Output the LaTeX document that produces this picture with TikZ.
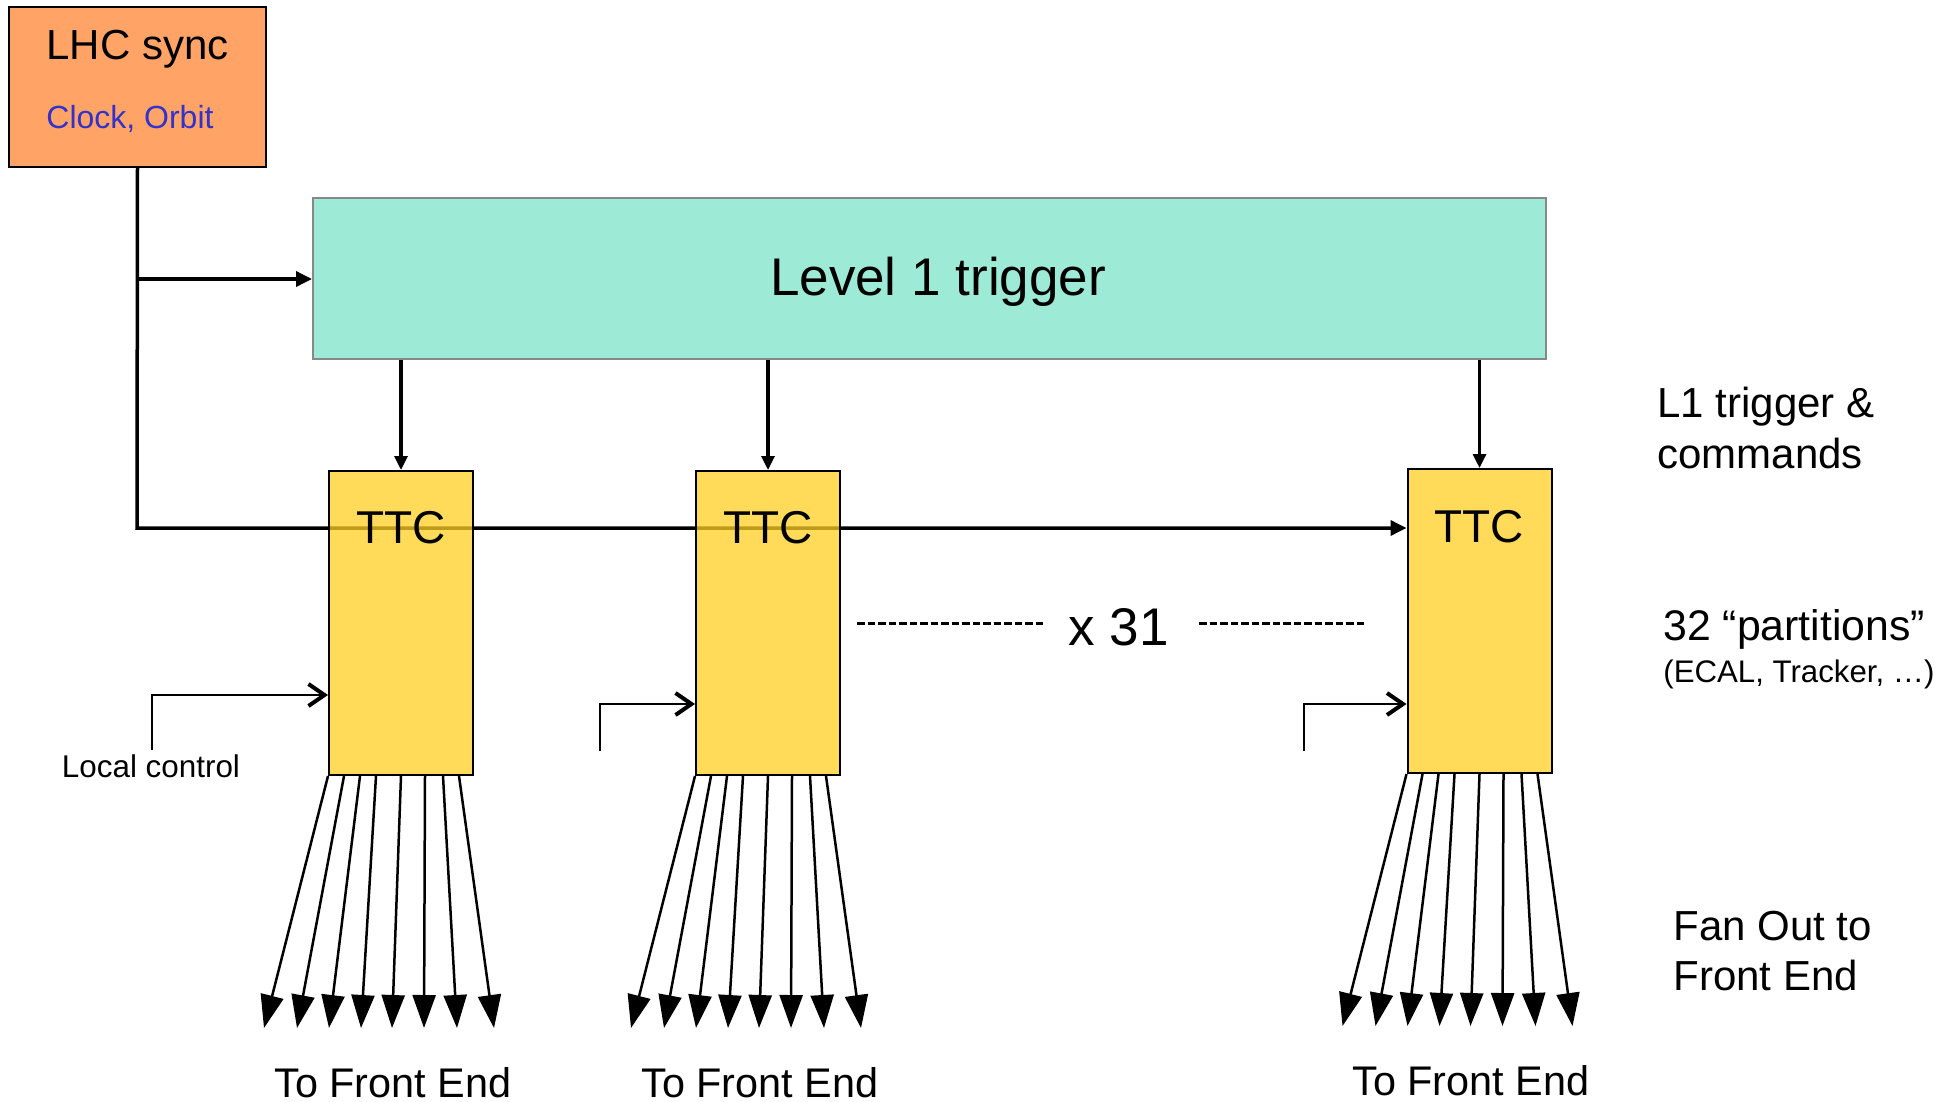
\documentclass[tikz,border=0pt]{standalone}
\usepackage{fontspec}
\setmainfont{Liberation Sans}
\usetikzlibrary{arrows.meta,calc,backgrounds}
\definecolor{lhcfill}{HTML}{FFA466}
\definecolor{blutext}{HTML}{3333CC}
\definecolor{ttcfill}{HTML}{FFCF22}
\definecolor{lonefill}{HTML}{9DEAD6}
\definecolor{loneborder}{HTML}{888888}
\newcommand\myfs[1]{\fontsize{#1}{#1}\selectfont}
\begin{document}
\begin{tikzpicture}[x=0.5pt,y=-0.5pt,
  lhcbox/.style={draw=black,line width=1pt,fill=lhcfill,inner sep=0pt,minimum width=128.5pt,minimum height=80pt},
  lonebox/.style={draw=loneborder,line width=1pt,fill=lonefill,inner sep=0pt,minimum width=616.5pt,minimum height=80.5pt},
  ttcbox/.style={draw=black,line width=1pt,fill=ttcfill,fill opacity=0.75,draw opacity=1,inner sep=0pt,minimum width=72pt,minimum height=152pt},
  txt/.style={inner sep=0pt,anchor=base west},
  ctxt/.style={inner sep=0pt,anchor=base},
  clk/.style={line width=1.75pt,-{Triangle[width=7.5pt,length=8pt]}},
  trig/.style={line width=1.6pt,-{Triangle[width=6.5pt,length=7pt]}},
  fan/.style={line width=1.25pt,-{Triangle[width=11.5pt,length=16.5pt]}},
  local/.style={line width=1pt,-{Straight Barb[width=11pt,length=8pt,line width=2pt]}},
  dots/.style={line width=1.5pt,dash pattern=on 3.75pt off 1.5pt}
]
\useasboundingbox (0,0) rectangle (1958,1102);

% boxes
\node[lhcbox] (lhc) at (137.5,87) {};
\node[txt,font=\myfs{21}] (lhct) at (46,60) {LHC sync};
\node[txt,font=\myfs{16},text=blutext] (clo) at (46,128) {Clock, Orbit};

\node[lonebox] (l1) at (929.5,278.5) {};
\node[ctxt,font=\myfs{26.5}] (l1t) at (938,295) {Level 1 trigger};

\node[ttcbox] (ttc1) at (401,623) {};
\node[ttcbox] (ttc2) at (768,623) {};
\node[ttcbox] (ttc3) at (1479.5,621) {};
\node[ctxt,font=\myfs{23}] (tt1) at (401,543) {TTC};
\node[ctxt,font=\myfs{23}] (tt2) at (768,543) {TTC};
\node[ctxt,font=\myfs{23}] (tt3) at (1479,542) {TTC};

% clock line (behind the semi-transparent TTC boxes)
\coordinate (clkc) at (137,528);
\coordinate (brc) at (137,279);
\begin{pgfonlayer}{background}
\draw[clk] (lhc.south) -- (clkc) -- (clkc -| ttc3.west);
\end{pgfonlayer}
\draw[clk] (brc) -- (brc -| l1.west);

% L1 -> TTC
\foreach \i in {1,2,3}{
  \draw[trig] (l1.south -| ttc\i.north) -- (ttc\i.north);
}

% local control
\coordinate (lca) at (152,750);
\coordinate (lcb) at (600,751);
\coordinate (lcc) at (1304,751);
\draw[local] (lca) |- ($(ttc1.south west)+(0,-81)$);
\draw[local] (lcb) |- ($(ttc2.south west)+(0,-72)$);
\draw[local] (lcc) |- ($(ttc3.south west)+(0,-70)$);
\node[ctxt,font=\myfs{15.7}] (lct) at (151,777) {Local control};

% fan out
\foreach \i in {1,2,3}{
  \foreach \s/\e [count=\k] in {0/-64,16/-31,32/1,48/33,73/64,97/96,115/129,131/166}{
    \coordinate (fe\i\k) at ($(ttc\i.south west)+(\e,252)$);
    \draw[fan] ($(ttc\i.south west)+(\s,0)$) -- (fe\i\k);
  }
}
\node[ctxt,font=\myfs{20.7}] (tfe1) at (393,1097) {To Front End};
\node[ctxt,font=\myfs{20.7}] (tfe2) at (760,1097) {To Front End};
\node[ctxt,font=\myfs{20.7}] (tfe3) at (1471,1095) {To Front End};

% x 31
\coordinate (da) at (857,623);
\coordinate (db) at (1046,623);
\coordinate (dc) at (1199,623);
\coordinate (dd) at (1367,623);
\draw[dots] (da) -- (db);
\draw[dots] (dc) -- (dd);
\node[txt,font=\myfs{26.5}] (x31) at (1068,645) {x 31};

% right labels
\node[txt,font=\myfs{21}] (r1) at (1657,417) {L1 trigger \&};
\node[txt,font=\myfs{21}] (r2) at (1657,468) {commands};
\node[txt,font=\myfs{21.4}] (r3) at (1663,640) {32 “partitions”};
\node[txt,font=\myfs{15.6}] (r4) at (1663,682) {(ECAL, Tracker, …)};
\node[txt,font=\myfs{21}] (r5) at (1673,940) {Fan Out to};
\node[txt,font=\myfs{21}] (r6) at (1673,990) {Front End};
\end{tikzpicture}
\end{document}
